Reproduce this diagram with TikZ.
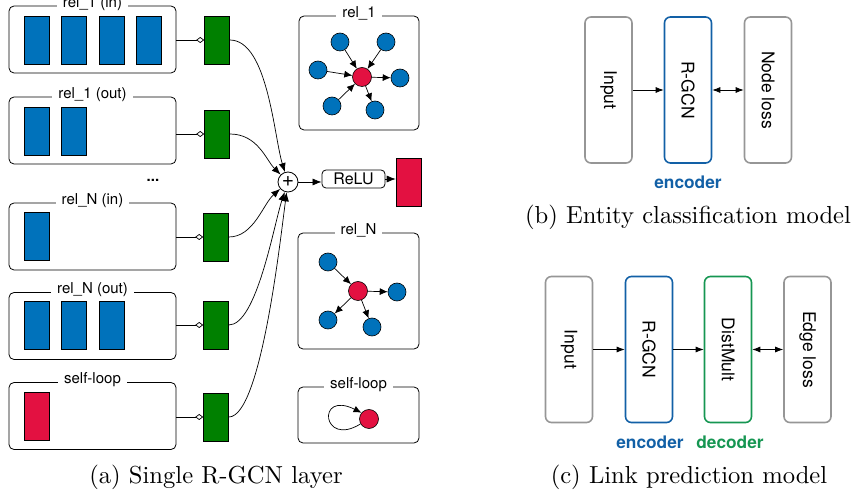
\documentclass[tikz,border=0pt]{standalone}
\usepackage{fontspec}
\newfontfamily\hv{TeX Gyre Heros}
\newfontfamily\capfont{lmroman10-regular}[Extension=.otf]
\usetikzlibrary{arrows.meta,calc}
\definecolor{myblue}{RGB}{0,114,187}
\definecolor{myred}{RGB}{227,17,65}
\definecolor{mygreen}{RGB}{0,128,0}
\definecolor{encblue}{RGB}{18,96,166}
\definecolor{decgreen}{RGB}{22,150,82}
\definecolor{boxgray}{RGB}{150,150,150}
\begin{document}
\begin{tikzpicture}[x=1pt,y=-1pt,
  panel/.style={draw, rounded corners=5pt, line width=0.8pt, inner sep=0pt},
  lab/.style={fill=white, inner xsep=6pt, inner ysep=1pt, yshift=2pt, font=\hv\fontsize{15}{18}\selectfont},
  feat/.style={draw, line width=0.6pt, minimum width=25pt, minimum height=48pt, inner sep=0pt},
  bfeat/.style={feat, fill=myblue},
  rfeat/.style={feat, fill=myred},
  gfeat/.style={feat, fill=mygreen},
  conn/.style={line width=0.7pt, -{Diamond[open,length=8pt,width=6pt]}},
  arr/.style={line width=0.7pt, -{Latex[length=9pt,width=7pt]}},
  bn/.style={circle, draw, line width=0.6pt, fill=myblue, minimum size=18pt, inner sep=0pt},
  rn/.style={circle, draw, line width=0.6pt, fill=myred, minimum size=19pt, inner sep=0pt},
  garr/.style={line width=0.7pt, -{Latex[length=8pt,width=7pt]}},
  mbox/.style={draw=boxgray, line width=1.6pt, rounded corners=6pt, minimum width=47pt, minimum height=146pt, inner sep=0pt},
  mfont/.style={font=\hv\fontsize{17.5}{20}\selectfont},
  captext/.style={font=\capfont\fontsize{24.6}{28}\selectfont, anchor=base},
  marr/.style={line width=0.8pt, -{Latex[length=8pt,width=6pt]}},
  darr/.style={line width=0.8pt, {Latex[length=8pt,width=6pt]}-{Latex[length=8pt,width=6pt]}}
]
\useasboundingbox (0,0) rectangle (852,502);

% ---------- panel (a): relation boxes ----------
\node[panel, minimum width=167pt, minimum height=67pt] (b1) at (92.5,39.5) {};
\node[panel, minimum width=167pt, minimum height=67pt] (b2) at (92.5,130.5) {};
\node[panel, minimum width=167pt, minimum height=67pt] (b3) at (92.5,236.5) {};
\node[panel, minimum width=167pt, minimum height=67pt] (b4) at (92.5,326) {};
\node[panel, minimum width=167pt, minimum height=67pt] (b5) at (92.5,416) {};
\node[lab] (l1) at (b1.north) {rel\_1 (in)};
\node[lab] (l2) at (b2.north) {rel\_1 (out)};
\node[lab] (l3) at (b3.north) {rel\_N (in)};
\node[lab] (l4) at (b4.north) {rel\_N (out)};
\node[lab] (l5) at (b5.north) {self-loop};
\node[font=\hv\fontsize{15}{18}\selectfont\bfseries] (dots) at (153,180) {...};

% features
\node[bfeat] (f11) at (36.5,40) {};
\node[bfeat] (f12) at (74,40) {};
\node[bfeat] (f13) at (111.5,40) {};
\node[bfeat] (f14) at (148.5,40) {};
\node[bfeat] (f21) at (36.5,131) {};
\node[bfeat] (f22) at (74,131) {};
\node[bfeat] (f31) at (36.5,236) {};
\node[bfeat] (f41) at (36.5,325) {};
\node[bfeat] (f42) at (74,325) {};
\node[bfeat] (f43) at (111.5,325) {};
\node[rfeat] (f51) at (36.5,416) {};

% green weights
\node[gfeat] (g1) at (217,40) {};
\node[gfeat] (g2) at (217,134) {};
\node[gfeat] (g3) at (216,237) {};
\node[gfeat] (g4) at (216,325) {};
\node[gfeat] (g5) at (216,417) {};

\draw[conn] (b1.east |- g1.west) -- (g1.west);
\draw[conn] (b2.east |- g2.west) -- (g2.west);
\draw[conn] (b3.east |- g3.west) -- (g3.west);
\draw[conn] (b4.east |- g4.west) -- (g4.west);
\draw[conn] (b5.east |- g5.west) -- (g5.west);

% sum
\node[circle, draw, line width=0.8pt, minimum size=20pt, inner sep=0pt, font=\hv\fontsize{21}{22}\selectfont] (plus) at (288,182) {+};
\draw[arr] (g1.east) .. controls +(38,0) and +(-14,-45) .. (plus);
\draw[arr] (g2.east) .. controls +(28,0) and +(-22,-22) .. (plus);
\draw[arr] (g3.east) .. controls +(25,0) and +(-25,22) .. (plus);
\draw[arr] (g4.east) .. controls +(28,0) and +(-14,42) .. (plus);
\draw[arr] (g5.east) .. controls +(32,0) and +(-8,60) .. (plus);

\node[draw, rounded corners=4pt, line width=0.8pt, minimum width=63pt, minimum height=18pt, inner sep=0pt, font=\hv\fontsize{16}{18}\selectfont] (relu) at (353.5,179) {ReLU};
\node[rfeat] (out) at (408.5,182) {};
\draw[arr] (plus) -- (relu.west |- plus);
\draw[arr] (relu.east) -- (out.west |- relu.east);

% ---------- graph panels ----------
\node[panel, minimum width=120pt, minimum height=114pt] (p1) at (359,73) {};
\node[lab] (pl1) at (p1.north) {rel\_1};
\node[rn] (c1) at (362,77) {};
\node[bn] (n11) at (340,42) {};
\node[bn] (n12) at (386,42) {};
\node[bn] (n13) at (318,70) {};
\node[bn] (n14) at (400,78) {};
\node[bn] (n15) at (332,106) {};
\node[bn] (n16) at (375,110) {};
\draw[garr] (n11) -- (c1);
\draw[garr] (n12) -- (c1);
\draw[garr] (n13) -- (c1);
\draw[garr] (n15) -- (c1);
\draw[garr] (c1) -- (n14);
\draw[garr] (c1) -- (n16);

\node[panel, minimum width=121pt, minimum height=116pt] (p2) at (358.5,291) {};
\node[lab] (pl2) at (p2.north) {rel\_N};
\node[rn] (c2) at (358,291) {};
\node[bn] (n21) at (328,262) {};
\node[bn] (n22) at (397,292) {};
\node[bn] (n23) at (328,320) {};
\node[bn] (n24) at (372,327) {};
\draw[garr] (n21) -- (c2);
\draw[garr] (c2) -- (n22);
\draw[garr] (c2) -- (n23);
\draw[garr] (c2) -- (n24);

\node[panel, minimum width=121pt, minimum height=56pt] (p3) at (358.5,415) {};
\node[lab] (pl3) at (p3.north) {self-loop};
\node[rn] (c3) at (369,419) {};
\draw[garr] (c3.210) .. controls (322,448) and (316,390) .. (c3.140);

% ---------- panel (b) ----------
\node[mbox, label={[rotate=-90, mfont]center:Input}] (bin) at (608.5,90) {};
\node[mbox, draw=encblue, label={[rotate=-90, mfont]center:R-GCN}] (brg) at (688,90) {};
\node[mbox, label={[rotate=-90, mfont]center:Node loss}] (bnl) at (768,90) {};
\draw[marr] (bin) -- (brg);
\draw[darr] (brg) -- (bnl);
\node[font=\hv\bfseries\fontsize{17.3}{20}\selectfont, text=encblue] (benc) at (688,182) {encoder};
\node[captext] (capb) at (688,224) {(b) Entity classification model};

% ---------- panel (c) ----------
\node[mbox, label={[rotate=-90, mfont]center:Input}] (cin) at (569,349.5) {};
\node[mbox, draw=encblue, label={[rotate=-90, mfont]center:R-GCN}] (crg) at (649,349.5) {};
\node[mbox, draw=decgreen, label={[rotate=-90, mfont]center:DistMult}] (cdm) at (728,349.5) {};
\node[mbox, label={[rotate=-90, mfont]center:Edge loss}] (cel) at (807.5,349.5) {};
\draw[marr] (cin) -- (crg);
\draw[marr] (crg) -- (cdm);
\draw[darr] (cdm) -- (cel);
\node[font=\hv\bfseries\fontsize{17.3}{20}\selectfont, text=encblue] (cenc) at (650,442) {encoder};
\node[font=\hv\bfseries\fontsize{17.3}{20}\selectfont, text=decgreen] (cdec) at (730,442) {decoder};
\node[captext] (capc) at (689,484) {(c) Link prediction model};

\node[captext] (capa) at (216,484) {(a) Single R-GCN layer};
\end{tikzpicture}
\end{document}
